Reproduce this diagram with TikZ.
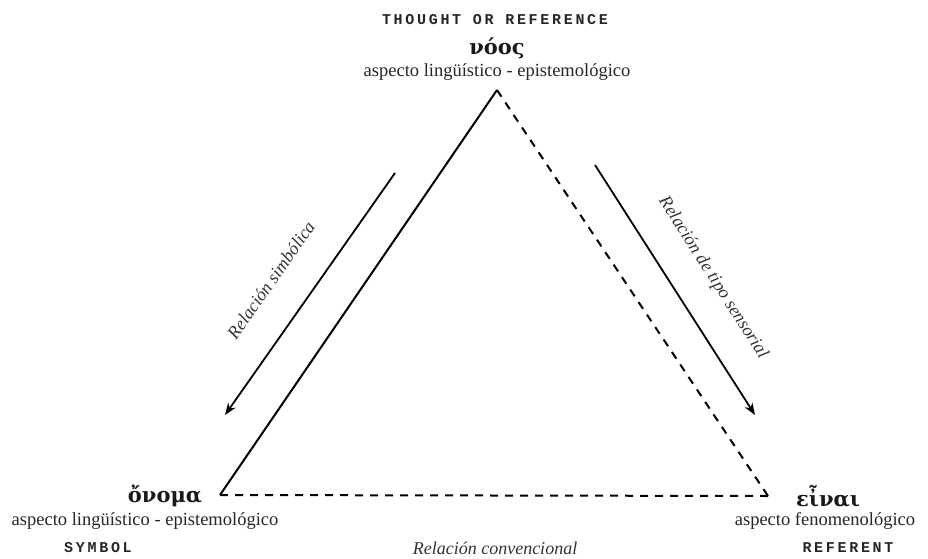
\documentclass[tikz,border=0pt]{standalone}
\usepackage{fontspec}
\setmainfont{Liberation Serif}
\newfontfamily\capsfont[LetterSpace=18]{Liberation Mono}
\newfontfamily\greekfont{DejaVu Serif}
\newfontfamily\relfont{Liberation Serif}
\usetikzlibrary{arrows.meta}
\tikzset{
  caps/.style={font=\capsfont\bfseries\fontsize{15}{17}\selectfont, text=black!85, inner sep=0pt},
  greek/.style={font=\greekfont\bfseries\fontsize{21}{24}\selectfont, text=black!90, inner sep=0pt},
  aspect/.style={font=\fontsize{18.5}{21}\selectfont, text=black!85, inner sep=0pt},
  rel/.style={font=\relfont\itshape\fontsize{18}{20}\selectfont, text=black!80, inner sep=0pt},
  solidline/.style={line width=2pt, black},
  dashline/.style={line width=2pt, black, dash pattern=on 8pt off 7pt},
  arrowline/.style={line width=1.8pt, black, -{Stealth[length=12pt,width=9pt]}}
}
\begin{document}
\begin{tikzpicture}[x=1pt,y=1pt]
\useasboundingbox (0,0) rectangle (928,558);
% vertices
\coordinate (A) at (497,468);
\coordinate (L) at (220,63);
\coordinate (R) at (768,62);
% triangle
\draw[solidline] (L) -- (A);
\draw[dashline] (A) -- (R);
\draw[dashline] (L) -- (R);
% arrows
\coordinate (la1) at (395,385);
\coordinate (la2) at (225,143);
\coordinate (ra1) at (595,393);
\coordinate (ra2) at (755,143);
\draw[arrowline] (la1) -- (la2);
\draw[arrowline] (ra1) -- (ra2);
% top labels
\node[caps] (thought) at (495,538) {THOUGHT OR REFERENCE};
\node[greek] (noos) at (497,510) {νόος};
\node[aspect] (asptop) at (497,486) {aspecto lingüístico - epistemológico};
% left labels
\node[greek] (onoma) at (165,62) {ὄνομα};
\node[aspect] (aspleft) at (145,37) {aspecto lingüístico - epistemológico};
\node[caps] (symbol) at (98,10) {SYMBOL};
% right labels
\node[greek] (einai) at (828,62) {εἶναι};
\node[aspect] (aspright) at (825,37) {aspecto fenomenológico};
\node[caps] (referent) at (848,10) {REFERENT};
% relation labels
\node[rel, rotate=54.9] (rsim) at (271,278) {Relación simbólica};
\node[rel, rotate=-57.4] (rsens) at (713,280) {Relación de tipo sensorial};
\node[rel] (rconv) at (495,10) {Relación convencional};
\end{tikzpicture}
\end{document}
